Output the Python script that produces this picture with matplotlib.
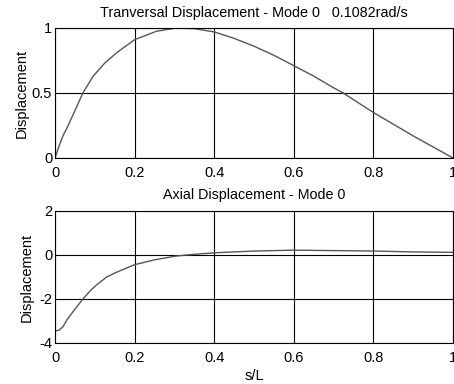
import matplotlib.pyplot as plt
import numpy as np

plt.rcParams['font.family'] = ['Liberation Sans', 'DejaVu Sans']
plt.rcParams['font.size'] = 10.5
plt.rcParams['axes.unicode_minus'] = False

title_font = ['Liberation Sans Narrow', 'Liberation Sans', 'DejaVu Sans']

# s/L positions along the beam
s_top = [0.0, 0.01, 0.02, 0.03, 0.045, 0.07, 0.096, 0.125, 0.155, 0.2, 0.255,
         0.305, 0.35, 0.4, 0.45, 0.5, 0.55, 0.6, 0.65, 0.7, 0.724, 0.8, 0.85,
         0.9, 0.95, 1.0]
# transverse mode shape (normalised)
w_top = [0.0, 0.09, 0.17, 0.23, 0.33, 0.5, 0.63, 0.73, 0.81, 0.91, 0.975,
         1.0, 0.995, 0.97, 0.92, 0.86, 0.79, 0.71, 0.63, 0.54, 0.5, 0.35, 0.26,
         0.17, 0.085, 0.0]

s_bot = [0.0, 0.01, 0.02, 0.03, 0.045, 0.07, 0.09, 0.105, 0.13, 0.155, 0.2,
         0.25, 0.3, 0.33, 0.4, 0.5, 0.6, 0.7, 0.8, 0.9, 1.0]
# axial mode shape
u_bot = [-3.45, -3.42, -3.26, -2.95, -2.58, -2.0, -1.6, -1.35, -1.0, -0.78, -0.44,
         -0.22, -0.06, 0.0, 0.1, 0.18, 0.22, 0.2, 0.18, 0.14, 0.12]

xticks = [0, 0.2, 0.4, 0.6, 0.8, 1]
xlabels = ['0', '0.2', '0.4', '0.6', '0.8', '1']

fig = plt.figure(figsize=(4.54, 3.84), dpi=100)
ax1 = fig.add_axes([55/454, 1 - 158/384, 398/454, 130/384])
ax2 = fig.add_axes([55/454, 1 - 343/384, 398/454, 132/384])

ax1.plot(s_top, w_top, color='#555555', lw=1.0)
ax1.set_ylim(0, 1)
ax1.set_yticks([0, 0.5, 1])
ax1.set_yticklabels(['0', '0.5', '1'])
ax1.set_title('Tranversal Displacement - Mode 0   0.1082rad/s', pad=8,
              family=title_font, fontsize=10.4)
ax1.set_ylabel('Displacement', labelpad=2)

ax2.plot(s_bot, u_bot, color='#555555', lw=1.0)
ax2.set_ylim(-4, 2)
ax2.set_yticks([-4, -2, 0, 2])
ax2.set_yticklabels(['-4', '-2', '0', '2'])
ax2.set_title('Axial Displacement - Mode 0', pad=9,
              family=title_font, fontsize=10.3)
ax2.set_ylabel('Displacement', labelpad=4)
ax2.set_xlabel('s/L', labelpad=3)

for ax in (ax1, ax2):
    ax.set_xlim(0, 1)
    ax.set_xticks(xticks)
    ax.set_xticklabels(xlabels)
    ax.grid(True, color='black', lw=0.8)
    ax.tick_params(axis='x', length=0, pad=5.5)
    ax.tick_params(axis='y', length=0, pad=2)
    for sp in ax.spines.values():
        sp.set_color('black')
        sp.set_linewidth(0.8)

fig.savefig('out.png', dpi=100)
